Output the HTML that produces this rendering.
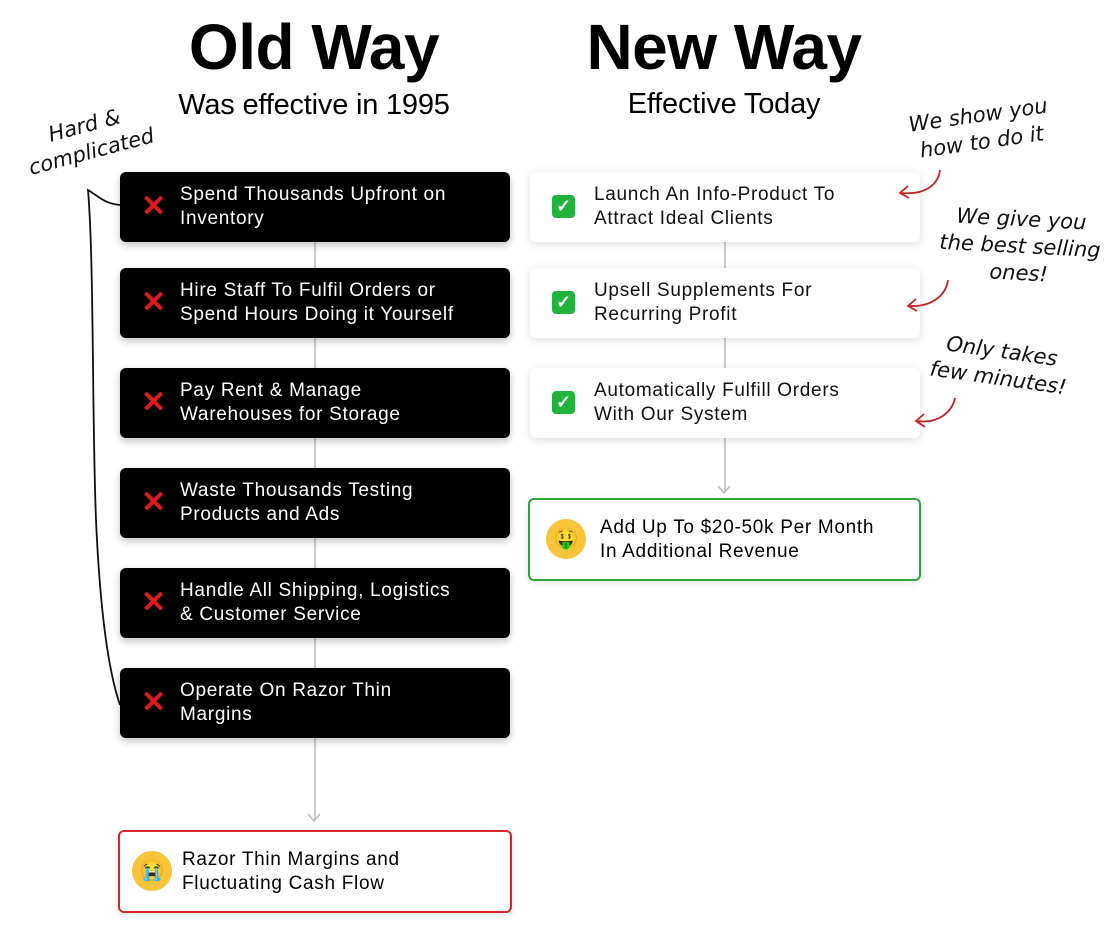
<!DOCTYPE html>
<html><head><meta charset="utf-8"><style>
body{margin:0;width:1109px;height:930px;background:#fff;position:relative;font-family:"Liberation Sans",sans-serif;overflow:hidden}
.t{position:absolute;text-align:center;color:#000}
.h1{font-weight:bold;font-size:64px;letter-spacing:-0.5px}
.h2{font-size:29px;letter-spacing:-0.2px}
.b{position:absolute;border-radius:6px;box-sizing:border-box;font-size:19px;letter-spacing:0.7px;line-height:24px;display:flex;align-items:center}
.k{background:#000;color:#fff;left:120px;width:390px;height:70px;padding-left:60px;box-shadow:0 3px 8px rgba(0,0,0,.25)}
.w{background:#fff;color:#111;left:530px;width:390px;height:70px;padding-left:64px;box-shadow:0 2px 10px rgba(0,0,0,.13)}
.x{position:absolute;left:21px;top:22px;color:#e01b1b;font-size:30px;font-weight:bold;line-height:26px}
.c{position:absolute;left:22px;top:23px;width:23px;height:23px;background:#22b33a;border-radius:4px;color:#fff;font-size:18px;line-height:23px;text-align:center;font-weight:bold;letter-spacing:0}
.v{position:absolute;width:2px;background:#ccc}
.hw{position:absolute;font-family:"DejaVu Sans",cursive;font-style:italic;font-size:21px;line-height:27px;color:#111;text-align:center}
.e{position:absolute;width:40px;height:40px;border-radius:50%;background:#f8c53a;font-size:20px;text-align:center;line-height:40px;letter-spacing:0}
</style></head><body>
<div class="t h1" style="left:114px;width:400px;top:10px">Old Way</div>
<div class="t h2" style="left:114px;width:400px;top:89px">Was effective in 1995</div>
<div class="t h1" style="left:524px;width:400px;top:10px">New Way</div>
<div class="t h2" style="left:524px;width:400px;top:88px">Effective Today</div>

<div class="v" style="left:314px;top:242px;height:578px"></div>
<svg style="position:absolute;left:306px;top:812px" width="16" height="12"><path d="M2 2 L8 9 L14 2" fill="none" stroke="#bbb" stroke-width="1.5"/></svg>
<div class="v" style="left:724px;top:242px;height:250px"></div>
<svg style="position:absolute;left:716px;top:484px" width="16" height="12"><path d="M2 2 L8 9 L14 2" fill="none" stroke="#bbb" stroke-width="1.5"/></svg>

<div class="b k" style="top:172px"><span class="x">✕</span>Spend Thousands Upfront on<br>Inventory</div>
<div class="b k" style="top:268px"><span class="x">✕</span>Hire Staff To Fulfil Orders or<br>Spend Hours Doing it Yourself</div>
<div class="b k" style="top:368px"><span class="x">✕</span>Pay Rent &amp; Manage<br>Warehouses for Storage</div>
<div class="b k" style="top:468px"><span class="x">✕</span>Waste Thousands Testing<br>Products and Ads</div>
<div class="b k" style="top:568px"><span class="x">✕</span>Handle All Shipping, Logistics<br>&amp; Customer Service</div>
<div class="b k" style="top:668px"><span class="x">✕</span>Operate On Razor Thin<br>Margins</div>

<div class="b" style="left:118px;top:830px;width:394px;height:83px;border:2px solid #d9262c;padding-left:62px;background:#fff;box-shadow:0 2px 8px rgba(0,0,0,.1)"><span class="e" style="left:12px;top:19px">😭</span>Razor Thin Margins and<br>Fluctuating Cash Flow</div>

<div class="b w" style="top:172px"><span class="c">✓</span>Launch An Info-Product To<br>Attract Ideal Clients</div>
<div class="b w" style="top:268px"><span class="c">✓</span>Upsell Supplements For<br>Recurring Profit</div>
<div class="b w" style="top:368px"><span class="c">✓</span>Automatically Fulfill Orders<br>With Our System</div>

<div class="b" style="left:528px;top:498px;width:393px;height:83px;border:2px solid #2ea63a;padding-left:70px;background:#fff;box-shadow:0 2px 8px rgba(0,0,0,.1)"><span class="e" style="left:16px;top:19px">🤑</span>Add Up To $20-50k Per Month<br>In Additional Revenue</div>

<div class="hw" style="left:18px;top:112px;width:140px;transform:rotate(-15deg)">Hard &amp;<br>complicated</div>
<svg style="position:absolute;left:0;top:0" width="1109" height="930">
<path d="M120 205 C105 204 98 196 88 190 C94 260 92 420 96 520 C100 610 108 670 120 705" fill="none" stroke="#111" stroke-width="1.8"/>
<path d="M940 170 C938 185 925 195 902 193 M908 186 L900 193 L909 198" fill="none" stroke="#c02525" stroke-width="1.8"/>
<path d="M948 280 C946 295 932 307 910 306 M916 299 L908 306 L917 311" fill="none" stroke="#c02525" stroke-width="1.8"/>
<path d="M955 398 C952 412 938 424 918 421 M924 414 L916 421 L925 427" fill="none" stroke="#c02525" stroke-width="1.8"/>
</svg>
<div class="hw" style="left:895px;top:102px;width:170px;transform:rotate(-8deg)">We show you<br>how to do it</div>
<div class="hw" style="left:925px;top:206px;width:190px;transform:rotate(3deg)">We give you<br>the best selling<br>ones!</div>
<div class="hw" style="left:920px;top:338px;width:160px;transform:rotate(8deg)">Only takes<br>few minutes!</div>
</body></html>
